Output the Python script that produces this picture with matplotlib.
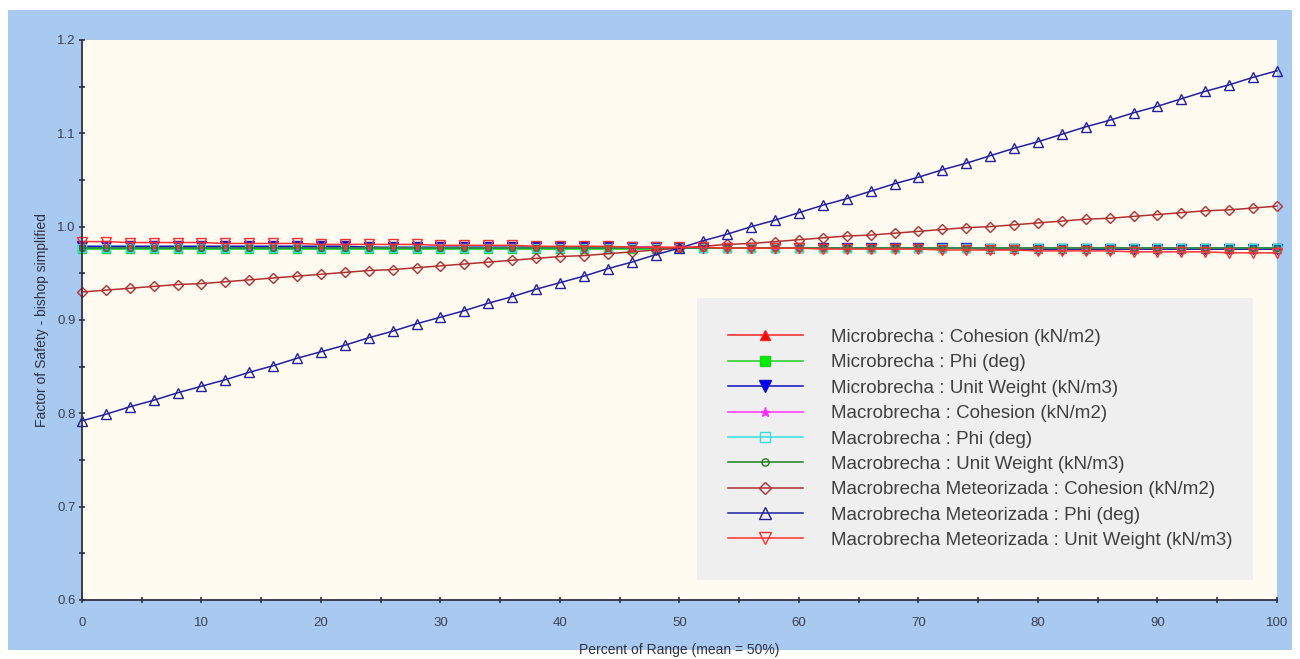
import numpy as np
import matplotlib.pyplot as plt
from matplotlib.patches import Rectangle
from matplotlib.ticker import MultipleLocator

plt.rcParams["font.family"] = ["Liberation Sans", "DejaVu Sans"]

# percent of range, sampled every 2 %
pct = np.arange(0, 101, 2)

mb_cohesion = [0.978, 0.978, 0.978, 0.978, 0.978, 0.978, 0.978, 0.978, 0.978, 0.978,
               0.978, 0.978, 0.978, 0.977, 0.977, 0.977, 0.977, 0.977, 0.977, 0.977,
               0.977, 0.977, 0.977, 0.977, 0.977, 0.977, 0.977, 0.977, 0.977, 0.977,
               0.977, 0.977, 0.977, 0.977, 0.977, 0.977, 0.977, 0.977, 0.976, 0.976,
               0.976, 0.976, 0.976, 0.976, 0.976, 0.976, 0.976, 0.976, 0.976, 0.976, 0.976]
mb_phi = [0.976, 0.976, 0.976, 0.976, 0.976, 0.976, 0.976, 0.976, 0.976, 0.976,
          0.976, 0.976, 0.976, 0.976, 0.976, 0.976, 0.976, 0.976, 0.976, 0.976,
          0.976, 0.976, 0.976, 0.976, 0.976, 0.977, 0.977, 0.977, 0.977, 0.977,
          0.977, 0.977, 0.977, 0.977, 0.977, 0.977, 0.977, 0.977, 0.977, 0.977,
          0.977, 0.977, 0.977, 0.977, 0.977, 0.977, 0.977, 0.977, 0.977, 0.977, 0.977]
mb_unit_weight = [0.979, 0.979, 0.979, 0.979, 0.979, 0.979, 0.979, 0.979, 0.979, 0.979,
                  0.979, 0.979, 0.978, 0.978, 0.978, 0.978, 0.978, 0.978, 0.978, 0.978,
                  0.978, 0.978, 0.978, 0.978, 0.978, 0.977, 0.977, 0.977, 0.977, 0.977,
                  0.977, 0.977, 0.977, 0.977, 0.977, 0.977, 0.977, 0.977, 0.976, 0.976,
                  0.976, 0.976, 0.976, 0.976, 0.976, 0.976, 0.976, 0.976, 0.976, 0.976, 0.976]
ma_cohesion = [0.977, 0.977, 0.977, 0.977, 0.977, 0.977, 0.977, 0.977, 0.977, 0.977,
               0.977, 0.977, 0.977, 0.977, 0.977, 0.977, 0.977, 0.977, 0.977, 0.977,
               0.977, 0.977, 0.977, 0.977, 0.977, 0.977, 0.977, 0.977, 0.977, 0.977,
               0.977, 0.977, 0.977, 0.977, 0.977, 0.977, 0.977, 0.977, 0.977, 0.977,
               0.977, 0.977, 0.977, 0.977, 0.977, 0.977, 0.977, 0.977, 0.977, 0.977, 0.977]
ma_phi = [0.977, 0.977, 0.977, 0.977, 0.977, 0.977, 0.977, 0.977, 0.977, 0.977,
          0.977, 0.977, 0.977, 0.977, 0.977, 0.977, 0.977, 0.977, 0.977, 0.977,
          0.977, 0.977, 0.977, 0.977, 0.977, 0.977, 0.977, 0.977, 0.977, 0.977,
          0.977, 0.977, 0.977, 0.977, 0.977, 0.977, 0.977, 0.977, 0.977, 0.977,
          0.977, 0.977, 0.977, 0.977, 0.977, 0.977, 0.977, 0.977, 0.977, 0.977, 0.977]
ma_unit_weight = [0.977, 0.977, 0.977, 0.977, 0.977, 0.977, 0.977, 0.977, 0.977, 0.977,
                  0.977, 0.977, 0.977, 0.977, 0.977, 0.977, 0.977, 0.977, 0.977, 0.977,
                  0.977, 0.977, 0.977, 0.977, 0.977, 0.977, 0.977, 0.977, 0.977, 0.977,
                  0.977, 0.977, 0.977, 0.977, 0.977, 0.977, 0.977, 0.977, 0.977, 0.977,
                  0.977, 0.977, 0.977, 0.977, 0.977, 0.977, 0.977, 0.977, 0.977, 0.977, 0.977]
mm_cohesion = [0.930, 0.932, 0.934, 0.936, 0.938, 0.939, 0.941, 0.943, 0.945, 0.947,
               0.949, 0.951, 0.953, 0.954, 0.956, 0.958, 0.960, 0.962, 0.964, 0.966,
               0.968, 0.969, 0.971, 0.973, 0.975, 0.977, 0.979, 0.981, 0.982, 0.984,
               0.986, 0.988, 0.990, 0.991, 0.993, 0.995, 0.997, 0.999, 1.000, 1.002,
               1.004, 1.006, 1.008, 1.009, 1.011, 1.013, 1.015, 1.017, 1.018, 1.020, 1.022]
mm_phi = [0.792, 0.799, 0.807, 0.814, 0.822, 0.829, 0.836, 0.844, 0.851, 0.859,
          0.866, 0.873, 0.881, 0.888, 0.896, 0.903, 0.910, 0.918, 0.925, 0.933,
          0.940, 0.947, 0.955, 0.962, 0.970, 0.977, 0.985, 0.992, 1.000, 1.007,
          1.015, 1.023, 1.030, 1.038, 1.046, 1.053, 1.061, 1.068, 1.076, 1.084,
          1.091, 1.099, 1.107, 1.114, 1.122, 1.129, 1.137, 1.145, 1.152, 1.160, 1.167]
mm_unit_weight = [0.984, 0.984, 0.983, 0.983, 0.983, 0.983, 0.982, 0.982, 0.982, 0.982,
                  0.981, 0.981, 0.981, 0.981, 0.981, 0.980, 0.980, 0.980, 0.980, 0.979,
                  0.979, 0.979, 0.979, 0.978, 0.978, 0.978, 0.978, 0.977, 0.977, 0.977,
                  0.977, 0.976, 0.976, 0.976, 0.976, 0.976, 0.975, 0.975, 0.975, 0.975,
                  0.974, 0.974, 0.974, 0.974, 0.973, 0.973, 0.973, 0.973, 0.972, 0.972, 0.972]

labels = ["Microbrecha : Cohesion (kN/m2)",
          "Microbrecha : Phi (deg)",
          "Microbrecha : Unit Weight (kN/m3)",
          "Macrobrecha : Cohesion (kN/m2)",
          "Macrobrecha : Phi (deg)",
          "Macrobrecha : Unit Weight (kN/m3)",
          "Macrobrecha Meteorizada : Cohesion (kN/m2)",
          "Macrobrecha Meteorizada : Phi (deg)",
          "Macrobrecha Meteorizada : Unit Weight (kN/m3)"]
series = [mb_cohesion, mb_phi, mb_unit_weight, ma_cohesion, ma_phi, ma_unit_weight,
          mm_cohesion, mm_phi, mm_unit_weight]

# (line colour, marker, marker face, marker size)
styles = [("#ff2020", "^", "#ff0000", 6),
          ("#20d020", "s", "#00ee00", 6),
          ("#1010c0", "v", "#0000ff", 7),
          ("#ff30ff", "*", "#ff30ff", 5),
          ("#30e0e0", "s", "none", 6),
          ("#208020", "o", "none", 4),
          ("#b03030", "D", "none", 5),
          ("#2020a0", "^", "none", 7),
          ("#ff3030", "v", "none", 7)]

fig = plt.figure(figsize=(13, 6.59), dpi=100)
fig.patch.set_facecolor("white")
fig.patches.append(Rectangle((8 / 1300, 9 / 659), 1284 / 1300, 640 / 659,
                             transform=fig.transFigure, facecolor="#a8c9f0",
                             edgecolor="none", zorder=-10))

ax = fig.add_axes([82 / 1300, 1 - 600 / 659, 1195 / 1300, 560 / 659])
ax.set_facecolor("#fffbf0")

for vals, lab, (col, mk, face, ms) in zip(series, labels, styles):
    ax.plot(pct, vals, color=col, lw=1.1, marker=mk, markersize=ms,
            markerfacecolor=face, markeredgecolor=col, markeredgewidth=1.0,
            label=lab, clip_on=False)

ax.set_xlim(0, 100)
ax.set_ylim(0.6, 1.2)
ax.xaxis.set_major_locator(MultipleLocator(10))
ax.xaxis.set_minor_locator(MultipleLocator(5))
ax.yaxis.set_major_locator(MultipleLocator(0.1))
ax.yaxis.set_minor_locator(MultipleLocator(0.05))
ax.yaxis.set_major_formatter(plt.FuncFormatter(lambda v, p: f"{v:.1f}"))
ax.tick_params(which="both", direction="inout", length=5, width=1.2,
               colors="#303040", labelsize=9.5, labelcolor="#404050")
ax.tick_params(axis="x", pad=10)
ax.tick_params(axis="y", pad=2)
for s in ("top", "right"):
    ax.spines[s].set_visible(False)
for s in ("left", "bottom"):
    ax.spines[s].set_color("#303040")
    ax.spines[s].set_linewidth(1.3)

ax.set_xlabel("Percent of Range (mean = 50%)", fontsize=10, color="#303040", labelpad=10)
ax.set_ylabel("Factor of Safety - bishop simplified", fontsize=10, color="#303040", labelpad=6)

leg = ax.legend(loc="upper left", bbox_to_anchor=(0.5146, 0.0321, 0.4653, 0.5072),
                mode="expand", borderaxespad=0,
                fontsize=13.5, handlelength=4.0, handletextpad=1.5, labelspacing=0.44,
                borderpad=1.65, fancybox=False, framealpha=1, markerscale=1.3)
leg.get_frame().set_facecolor("#efefef")
leg.get_frame().set_edgecolor("none")
for t in leg.get_texts():
    t.set_color("#404040")

fig.savefig("out.png", dpi=100)
